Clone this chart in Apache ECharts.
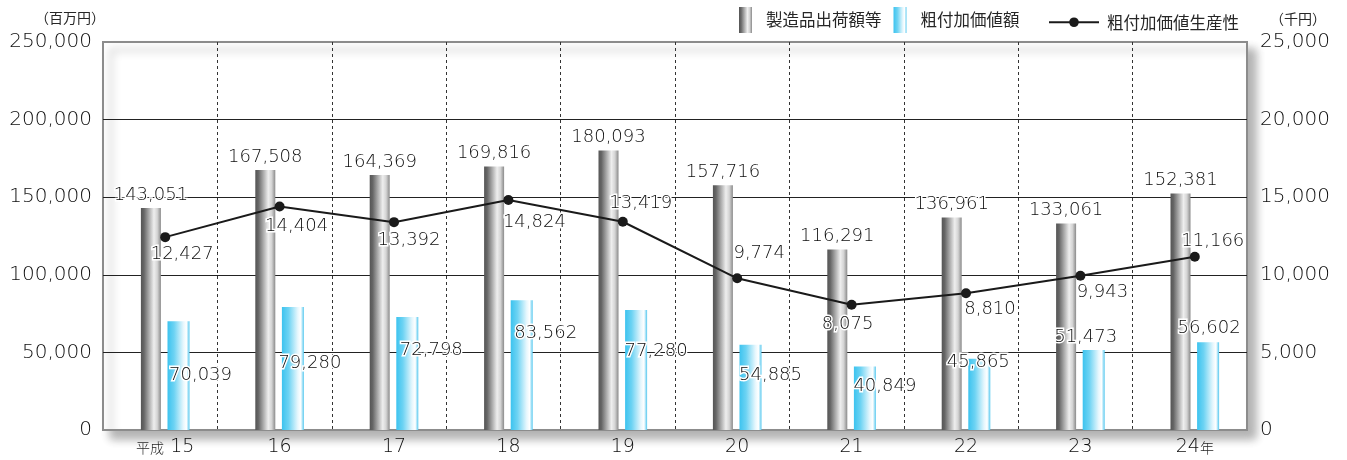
<!DOCTYPE html>
<html><head><meta charset="utf-8">
<script src="https://cdn.jsdelivr.net/npm/echarts@6/dist/echarts.min.js"></script>
<style>html,body{margin:0;padding:0;background:#fff}#c{width:1347px;height:460px}</style>
</head><body><div id="c"></div>
<script>
// ---- data ----
const categories = ['平成15', '16', '17', '18', '19', '20', '21', '22', '23', '24年'];
const shipments = [143051, 167508, 164369, 169816, 180093, 157716, 116291, 136961, 133061, 152381];
const valueAdded = [70039, 79280, 72798, 83562, 77280, 54885, 40849, 45865, 51473, 56602];
const productivity = [12427, 14404, 13392, 14824, 13419, 9774, 8075, 8810, 9943, 11166];
const seriesNames = ['製造品出荷額等', '粗付加価値額', '粗付加価値生産性'];
const leftUnit = '（百万円）';
const rightUnit = '（千円）';

// ---- label placement (style) ----
const valueAddedLabelOffset = [[22,54],[17,56],[24,33],[24,33],[20,41],[20,31],[20,20],[-1,4],[-8,-13],[1,-14]];
const productivityLabelOffset = [[17,17],[17,20],[15,18],[26,22],[18,-18],[22,-25],[-4,20],[24,16],[22,17],[18,-15]];

const F = "'DejaVu Sans','Noto Sans CJK JP',sans-serif";
const FJ = "'Noto Sans CJK JP',sans-serif";
const TXT = '#262626';
const NUM = '#0d0d0d';
const FW = 300;
const fmt = v => Number(v).toLocaleString('en-US');

const grayGrad = new echarts.graphic.LinearGradient(0, 0, 1, 0, [
  {offset: 0, color: '#555555'}, {offset: 0.15, color: '#666666'},
  {offset: 0.65, color: '#eeeeee'}, {offset: 0.82, color: '#d4d4d4'}, {offset: 1, color: '#8a8a8a'}
]);
const blueGrad = new echarts.graphic.LinearGradient(0, 0, 1, 0, [
  {offset: 0, color: '#3cc3ef'}, {offset: 0.3, color: '#6dd3f3'},
  {offset: 0.72, color: '#e6f7fd'}, {offset: 0.86, color: '#ffffff'}, {offset: 1, color: '#55c8ef'}
]);

const labelBase = {show: true, fontFamily: F, fontWeight: FW, fontSize: 18, color: NUM, textBorderColor: '#fff', textBorderWidth: 3,
  formatter: p => fmt(p.value)};

const chart = echarts.init(document.getElementById('c'));
chart.setOption({
  animation: false,
  backgroundColor: '#fff',
  grid: [
    {left: 103, right: 100, top: 42, bottom: 30, show: true, backgroundColor: '#fff',
     borderColor: '#8c8c8c', borderWidth: 2, shadowColor: 'rgba(0,0,0,0.3)', shadowBlur: 9, shadowOffsetX: 8, shadowOffsetY: 8},
    {left: 108, right: 95, top: 42, bottom: 30}
  ],
  xAxis: [
    {gridIndex: 0, type: 'category', data: categories, axisLine: {show: false}, axisTick: {show: false}, axisLabel: {show: false},
     splitLine: {show: true, interval: 0, showMinLine: false, showMaxLine: false, lineStyle: {color: '#333', type: [3, 3], width: 1}}},
    {gridIndex: 1, type: 'category', data: categories, axisLine: {show: false}, axisTick: {show: false}, splitLine: {show: false},
     axisLabel: {interval: 0, margin: 8, fontFamily: F, fontWeight: FW, fontSize: 19, color: NUM,
       formatter: v => v.replace('平成', '{s|平成} ').replace('年', '{s|年}'),
       rich: {s: {fontFamily: FJ, fontSize: 14, color: TXT}}}}
  ],
  yAxis: [
    {gridIndex: 0, type: 'value', min: 0, max: 250000, interval: 50000, axisLine: {show: false}, axisTick: {show: false},
     axisLabel: {margin: 11, fontFamily: F, fontWeight: FW, fontSize: 20, color: NUM, formatter: fmt},
     splitLine: {show: true, showMinLine: false, showMaxLine: false, lineStyle: {color: '#222', width: 1}}},
    {gridIndex: 0, type: 'value', position: 'right', min: 0, max: 25000, interval: 5000, axisLine: {show: false}, axisTick: {show: false},
     axisLabel: {margin: 13, fontFamily: F, fontWeight: FW, fontSize: 20, color: NUM, formatter: fmt}, splitLine: {show: false}},
    {gridIndex: 1, type: 'value', min: 0, max: 250000, show: false},
    {gridIndex: 1, type: 'value', min: 0, max: 25000, show: false}
  ],
  legend: [
    {data: [seriesNames[0], seriesNames[1]], left: 734, top: 2, itemWidth: 13, itemHeight: 26, itemGap: 12, icon: 'rect',
     textStyle: {fontFamily: FJ, fontSize: 16.5, color: TXT, padding: [0, 0, 0, 9]}},
    {data: [seriesNames[2]], left: 1043, top: 9, itemWidth: 50, itemHeight: 12, itemGap: 10,
     textStyle: {fontFamily: FJ, fontSize: 16.5, color: TXT, padding: [0, 0, 0, 3]}}
  ],
  graphic: [
    {type: 'text', left: 35, top: 11, style: {text: leftUnit, fontFamily: FJ, fontSize: 14, fill: TXT}},
    {type: 'text', left: 1270, top: 12, style: {text: rightUnit, fontFamily: FJ, fontSize: 14, fill: TXT}}
  ],
  series: [
    {name: seriesNames[0], type: 'bar', xAxisIndex: 1, yAxisIndex: 2, data: shipments, barWidth: 20, barGap: '33%',
     itemStyle: {color: grayGrad}, label: Object.assign({}, labelBase, {position: 'top', distance: 4})},
    {name: seriesNames[1], type: 'bar', xAxisIndex: 1, yAxisIndex: 2, barWidth: 22, barGap: '33%',
     data: valueAdded.map((v, i) => ({value: v, label: {offset: valueAddedLabelOffset[i]}})),
     itemStyle: {color: blueGrad},
     label: Object.assign({}, labelBase, {position: 'insideTop', distance: 0, align: 'center', verticalAlign: 'middle'})},
    {name: seriesNames[2], type: 'line', xAxisIndex: 1, yAxisIndex: 3, z: 5,
     data: productivity.map((v, i) => ({value: v, label: {offset: productivityLabelOffset[i]}})),
     symbol: 'circle', symbolSize: 10, lineStyle: {color: '#1a1a1a', width: 2}, itemStyle: {color: '#1a1a1a'},
     label: Object.assign({}, labelBase, {position: 'inside', align: 'center', verticalAlign: 'middle'})}
  ]
});
</script>
</body></html>
